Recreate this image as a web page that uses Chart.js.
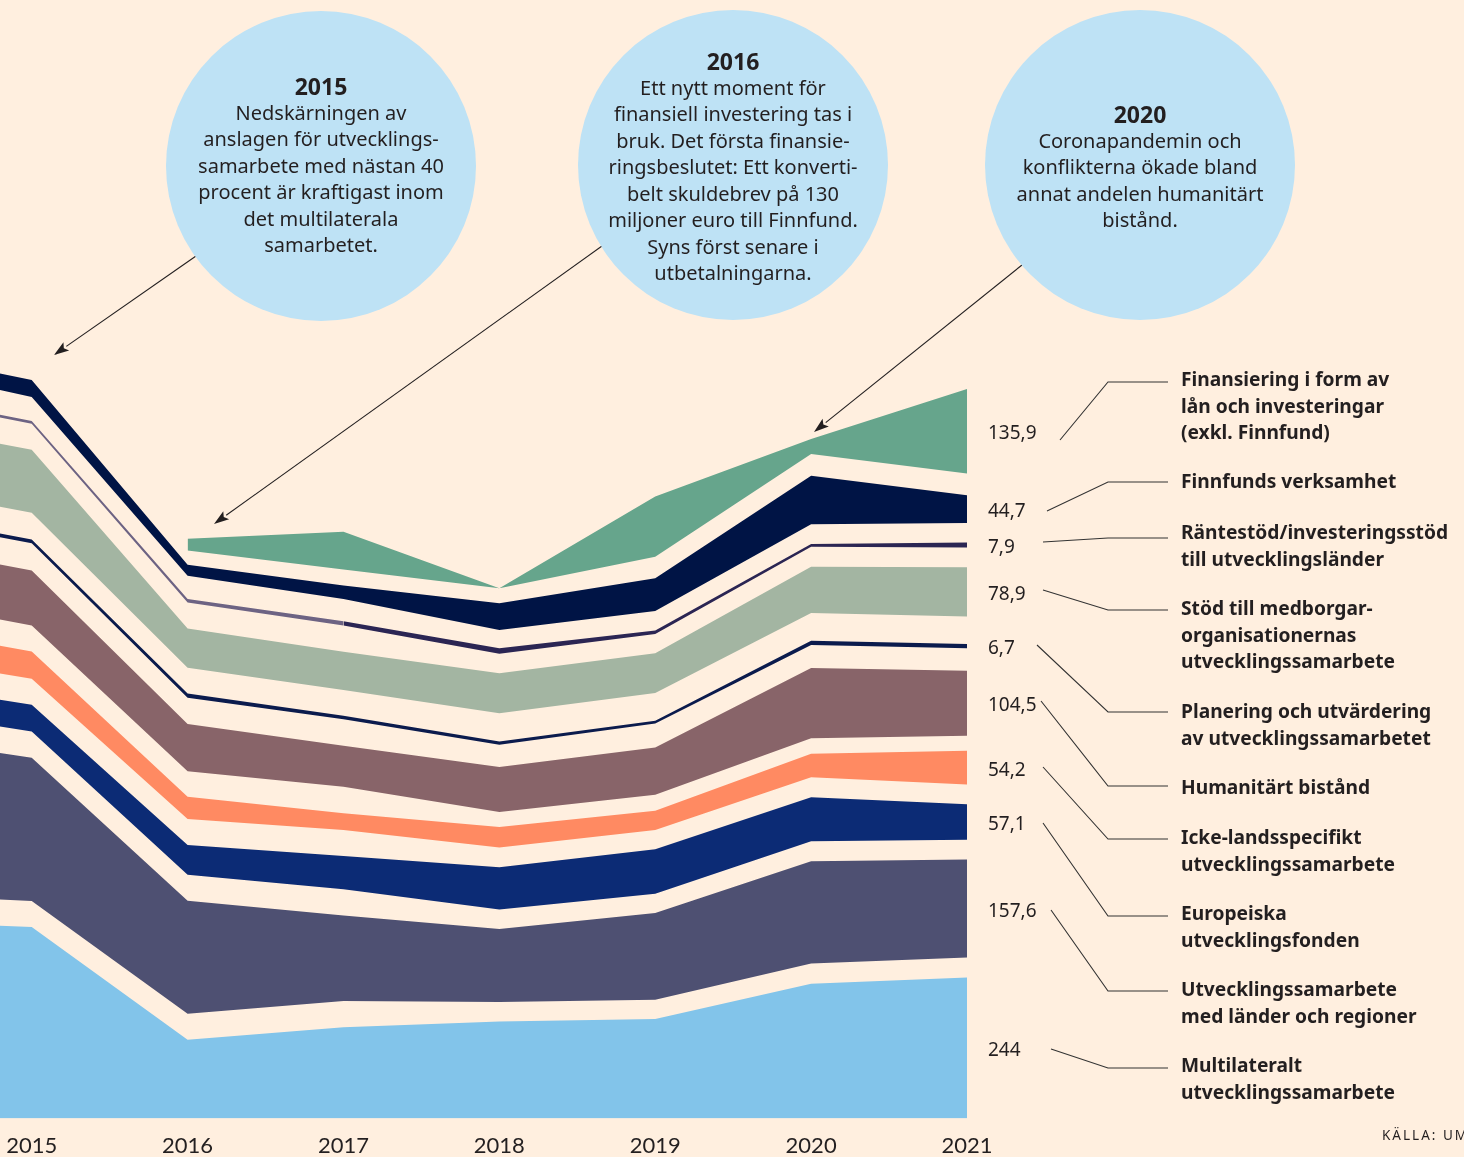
<!DOCTYPE html>
<html lang="sv">
<head>
  <meta charset="UTF-8" />
  <title>Utvecklingssamarbete 2015–2021</title>
  <script src="https://cdn.jsdelivr.net/npm/chart.js"></script>
  <style>
    body {
      margin: 0;
      background-color: #ffefdf;
      font-family: "Noto Sans", Lato, sans-serif;
      color: #231f20;
    }
    #wrap {
      position: relative;
      width: 1464px;
      height: 1157px;
      overflow: hidden;
    }
    #chart, #overlay {
      position: absolute;
      left: 0;
      top: 0;
    }
    .bubble {
      position: absolute;
      width: 310px;
      height: 310px;
      border-radius: 50%;
      background-color: #bee2f5;
    }
    .bubble-text {
      position: absolute;
      left: 0;
      width: 310px;
      text-align: center;
      font-size: 20px;
      line-height: 26.5px;
    }
    .bubble-text .year {
      font-weight: bold;
      font-size: 23px;
    }
    .legend-label {
      position: absolute;
      left: 1181px;
      font-weight: bold;
      font-size: 19.2px;
      line-height: 26.7px;
      white-space: nowrap;
    }
    .value-label {
      position: absolute;
      left: 988px;
      font-size: 19px;
      line-height: 26.7px;
      white-space: nowrap;
    }
    #source {
      position: absolute;
      left: 1382px;
      top: 1126px;
      font-size: 13.5px;
      letter-spacing: 2px;
      white-space: nowrap;
    }
  </style>
</head>
<body>
<div id="wrap">
  <canvas id="chart" width="1464" height="1164"></canvas>
  <svg id="overlay" width="1464" height="1157"></svg>

  <div class="bubble" style="left:166px; top:11px;">
    <div class="bubble-text" style="top:62px;">
      <div class="year">2015</div>
      Nedskärningen av<br>anslagen för utvecklings-<br>samarbete med nästan 40<br>procent är kraftigast inom<br>det multilaterala<br>samarbetet.
    </div>
  </div>
  <div class="bubble" style="left:578px; top:10px;">
    <div class="bubble-text" style="top:38px;">
      <div class="year">2016</div>
      Ett nytt moment för<br>finansiell investering tas i<br>bruk. Det första finansie-<br>ringsbeslutet: Ett konverti-<br>belt skuldebrev på 130<br>miljoner euro till Finnfund.<br>Syns först senare i<br>utbetalningarna.
    </div>
  </div>
  <div class="bubble" style="left:985px; top:10px;">
    <div class="bubble-text" style="top:91px;">
      <div class="year">2020</div>
      Coronapandemin och<br>konflikterna ökade bland<br>annat andelen humanitärt<br>bistånd.
    </div>
  </div>

  <div id="legend"></div>
  <div id="values"></div>
  <div id="source">KÄLLA: UM</div>
</div>

<script>
  // miljoner euro, 2014 är bara kanten till vänster
  const years = [2014, 2015, 2016, 2017, 2018, 2019, 2020, 2021];
  const tickYears = [2015, 2016, 2017, 2018, 2019, 2020, 2021];

  const multilateralt  = [335, 325, 144, 164, 173, 177, 234, 244];
  const landerRegioner = [256, 230.5, 181.7, 137.8, 117.4, 139.4, 164.5, 157.6];
  const europeiska     = [43, 43, 47.7, 53.5, 68, 71.2, 70.7, 57.1];
  const ickeLandsspec  = [47, 43.9, 35.9, 26.8, 33.1, 31, 37.5, 54.2];
  const humanitart     = [88, 88.4, 76, 65.9, 72.3, 76, 113, 104.5];
  const planering      = [6, 6, 7, 5.8, 5, 4.5, 6.9, 6.7];
  const medborgarorg   = [101, 101.3, 63.3, 61.6, 64.3, 63.8, 74.4, 78.9];
  const rantestod      = [4.3, 4.3, 5.5, 6.9, 8.8, 5.3, 4.3, 7.9];
  const finnfund       = [24, 27.3, 17.7, 21.4, 43.4, 52.6, 78.3, 44.7];
  const finansiering   = [null, null, 18.8, 60.8, 0, 96.5, 24, 135.9];

  // luft mellan lagren (samma enhet)
  const gap         = [44, 42, 41.8, 42, 31.5, 31.2, 32.3, 31.9];
  const gapIckeHum  = [44, 41.8, 40.8, 42.8, 24, 25.7, 25, 24];
  const gapHumPlan  = [44, 43.9, 42.3, 42.4, 36, 38.6, 37, 36.5];
  const gapPlanStod = [44, 42.9, 41.2, 41.3, 45.7, 44.5, 44.5, 44.4];
  const gapRantFinn = [44, 38.6, 37.5, 36, 29, 31.7, 31.7, 31.5];
  const gapTop      = [null, null, 23, 25.7, 24, 34.7, 35, 35];

  const pts = arr => years.map((x, i) => ({ x: x, y: arr[i] }));

  const bands = [
    { label: "Multilateralt utvecklingssamarbete", data: multilateralt, color: "#82c4ea" },
    { label: "Utvecklingssamarbete med länder och regioner", data: landerRegioner, color: "#4e5072", below: gap },
    { label: "Europeiska utvecklingsfonden", data: europeiska, color: "#0c2b75", below: gap },
    { label: "Icke-landsspecifikt utvecklingssamarbete", data: ickeLandsspec, color: "#ff8a62", below: gap },
    { label: "Humanitärt bistånd", data: humanitart, color: "#886469", below: gapIckeHum },
    { label: "Planering och utvärdering av utvecklingssamarbetet", data: planering, color: "#0b1b4d", below: gapHumPlan },
    { label: "Stöd till medborgarorganisationernas utvecklingssamarbete", data: medborgarorg, color: "#a3b5a2", below: gapPlanStod },
    { label: "Räntestöd/investeringsstöd till utvecklingsländer", data: rantestod, color: "#2b2553", below: gap,
      segColor: ctx => ctx.p0.parsed.x < 2017 ? "#6d6383" : "#2b2553" },
    { label: "Finnfunds verksamhet", data: finnfund, color: "#001445", below: gapRantFinn },
    { label: "Finansiering i form av lån och investeringar (exkl. Finnfund)", data: finansiering, color: "#66a58c", below: gapTop }
  ];

  const datasets = [];
  const bandIndex = [];
  bands.forEach((b, i) => {
    if (b.below) {
      datasets.push({
        label: "gap",
        data: pts(b.below),
        fill: false,
        borderWidth: 0,
        pointRadius: 0,
        backgroundColor: "rgba(0,0,0,0)"
      });
    }
    const ds = {
      label: b.label,
      data: pts(b.data),
      fill: i === 0 ? "origin" : "-1",
      backgroundColor: b.color,
      borderWidth: 0,
      pointRadius: 0,
      tension: 0
    };
    if (b.segColor) ds.segment = { backgroundColor: b.segColor };
    bandIndex.push(datasets.length);
    datasets.push(ds);
  });

  const chart = new Chart(document.getElementById("chart"), {
    type: "line",
    data: { datasets },
    options: {
      responsive: false,
      animation: false,
      layout: { padding: { left: 0, right: 497, top: 0, bottom: 0 } },
      plugins: {
        legend: { display: false },
        tooltip: { enabled: false }
      },
      scales: {
        x: {
          type: "linear",
          min: 2014.7965,
          max: 2021,
          afterBuildTicks: scale => {
            scale.ticks = tickYears.map(v => ({ value: v }));
          },
          ticks: {
            autoSkip: false,
            maxRotation: 0,
            padding: 5,
            color: "#231f20",
            font: { family: "Lato", size: 22 },
            callback: v => String(v)
          },
          grid: { display: false, tickLength: 9 },
          border: { display: false }
        },
        y: {
          display: false,
          stacked: true,
          min: 17,
          max: 1816
        }
      }
    }
  });

  // värdena för 2021 bredvid lagren
  const last = years.length - 1;
  const valuesDiv = document.getElementById("values");
  bandIndex.forEach((di, i) => {
    const top = chart.getDatasetMeta(di).data[last].y;
    const bottom = di === 0 ? chart.chartArea.bottom : chart.getDatasetMeta(di - 1).data[last].y;
    const el = document.createElement("div");
    el.className = "value-label";
    el.style.top = ((top + bottom) / 2 + 2 - 14) + "px";
    el.textContent = String(bands[i].data[last]).replace(".", ",");
    valuesDiv.appendChild(el);
  });

  // förklaringar till höger
  const legendRows = [
    { y: 380, text: ["Finansiering i form av", "lån och investeringar", "(exkl. Finnfund)"] },
    { y: 482, text: ["Finnfunds verksamhet"] },
    { y: 533, text: ["Räntestöd/investeringsstöd", "till utvecklingsländer"] },
    { y: 609, text: ["Stöd till medborgar-", "organisationernas", "utvecklingssamarbete"] },
    { y: 712, text: ["Planering och utvärdering", "av utvecklingssamarbetet"] },
    { y: 788, text: ["Humanitärt bistånd"] },
    { y: 838, text: ["Icke-landsspecifikt", "utvecklingssamarbete"] },
    { y: 914, text: ["Europeiska", "utvecklingsfonden"] },
    { y: 990, text: ["Utvecklingssamarbete", "med länder och regioner"] },
    { y: 1066, text: ["Multilateralt", "utvecklingssamarbete"] }
  ];
  const legendDiv = document.getElementById("legend");
  legendRows.forEach(r => {
    const el = document.createElement("div");
    el.className = "legend-label";
    el.style.top = (r.y - 14) + "px";
    el.innerHTML = r.text.join("<br>");
    legendDiv.appendChild(el);
  });

  // linjer och pilar
  const svg = document.getElementById("overlay");
  const NS = "http://www.w3.org/2000/svg";
  function add(tag, attrs) {
    const e = document.createElementNS(NS, tag);
    for (const k in attrs) e.setAttribute(k, attrs[k]);
    svg.appendChild(e);
  }
  const leaders = [
    [1060, 440, 1108, 382],
    [1047, 511, 1108, 482],
    [1043, 542, 1108, 538],
    [1043, 590, 1108, 610],
    [1037, 645, 1108, 712],
    [1041, 701, 1108, 786],
    [1043, 767, 1108, 839],
    [1043, 823, 1108, 916],
    [1051, 910, 1108, 991],
    [1051, 1049, 1108, 1068]
  ];
  leaders.forEach(([x1, y1, x2, y2]) => {
    add("polyline", {
      points: `${x1},${y1} ${x2},${y2} 1168,${y2}`,
      fill: "none", stroke: "#333", "stroke-width": 1.1
    });
  });

  const arrows = [
    [196, 256, 54, 355],
    [602, 246, 214, 524],
    [1022, 265, 814, 432]
  ];
  arrows.forEach(([x1, y1, x2, y2]) => {
    const len = Math.hypot(x2 - x1, y2 - y1);
    const ux = (x2 - x1) / len, uy = (y2 - y1) / len;
    const hl = 15, hw = 5;
    const bx = x2 - ux * hl, by = y2 - uy * hl;
    add("line", { x1, y1, x2: bx, y2: by, stroke: "#231f20", "stroke-width": 1.1 });
    add("polygon", {
      points: `${x2},${y2} ${bx - uy * hw},${by + ux * hw} ${bx + ux * 3},${by + uy * 3} ${bx + uy * hw},${by - ux * hw}`,
      fill: "#231f20"
    });
  });
</script>
</body>
</html>
